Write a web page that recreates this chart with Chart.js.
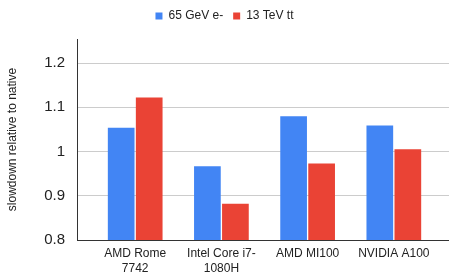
<!DOCTYPE html>
<html lang="en">
<head>
    <meta charset="UTF-8">
    <title>Slowdown relative to native</title>
    <script src="https://cdn.jsdelivr.net/npm/chart.js"></script>
    <style>
        html, body { margin: 0; padding: 0; background: #fff; }
        #wrap { width: 449px; height: 274px; }
    </style>
</head>
<body>
<div id="wrap"><canvas id="chart"></canvas></div>
<script>
    // --- values ---
    const categories = [['AMD Rome', '7742'], ['Intel Core i7-', '1080H'], 'AMD MI100', 'NVIDIA A100'];
    const seriesNames = ['65 GeV e-', '13 TeV tt'];
    const electronValues = [1.054, 0.967, 1.080, 1.059];
    const ttbarValues = [1.122, 0.882, 0.973, 1.005];
    const yTicks = [0.8, 0.9, 1.0, 1.1, 1.2];

    const FONT = "Arial, 'Liberation Sans', sans-serif";
    const BLUE = '#4285F4';
    const RED = '#EA4335';

    const toPoints = vals => vals.map((v, i) => ({ x: i, y: v }));

    // a bit more room under the legend, like the original
    const legendSpacer = {
        id: 'legendSpacer',
        afterInit(chart) {
            const lg = chart.legend;
            if (!lg) return;
            const fit = lg.fit;
            lg.fit = function () { fit.call(this); this.height += 7; };
        }
    };

    new Chart(document.getElementById('chart'), {
        type: 'bar',
        data: {
            datasets: [
                { label: seriesNames[0], data: toPoints(electronValues), backgroundColor: BLUE },
                { label: seriesNames[1], data: toPoints(ttbarValues), backgroundColor: RED }
            ]
        },
        plugins: [legendSpacer],
        options: {
            responsive: true,
            maintainAspectRatio: false,
            animation: false,
            categoryPercentage: 0.65,
            barPercentage: 0.953,
            layout: { padding: { left: 0, right: 0, top: 0, bottom: 0 } },
            plugins: {
                tooltip: { enabled: false },
                legend: {
                    position: 'top',
                    labels: { boxWidth: 7, boxHeight: 7, padding: 10, color: '#222', font: { family: FONT, size: 12 } }
                }
            },
            scales: {
                x: {
                    type: 'linear',
                    offset: false,
                    bounds: 'data',
                    min: -0.675,
                    max: 3.64,
                    grid: { display: false, drawTicks: false },
                    border: { display: true, color: '#333' },
                    afterBuildTicks: s => { s.ticks = categories.map((_, i) => ({ value: i })); },
                    afterFit: s => { s.height = 34; },
                    ticks: {
                        autoSkip: false,
                        maxRotation: 0,
                        padding: 6,
                        color: '#222',
                        font: { family: FONT, size: 12, lineHeight: 1.25 },
                        callback: v => categories[v] !== undefined ? categories[v] : ''
                    }
                },
                y: {
                    bounds: 'data',
                    min: 0.8,
                    max: 1.2545,
                    grid: { color: '#cccccc', drawTicks: false },
                    border: { display: true, color: '#333' },
                    afterBuildTicks: s => { s.ticks = yTicks.map(v => ({ value: v })); },
                    afterFit: s => { s.width = 77; },
                    title: {
                        display: true,
                        text: 'slowdown relative to native',
                        color: '#222',
                        padding: { top: 5, bottom: 0 },
                        font: { family: FONT, size: 12 }
                    },
                    ticks: {
                        padding: 12,
                        color: '#222',
                        font: { family: FONT, size: 15 },
                        callback: v => String(Number(v.toFixed(1)))
                    }
                }
            }
        }
    });
</script>
</body>
</html>
